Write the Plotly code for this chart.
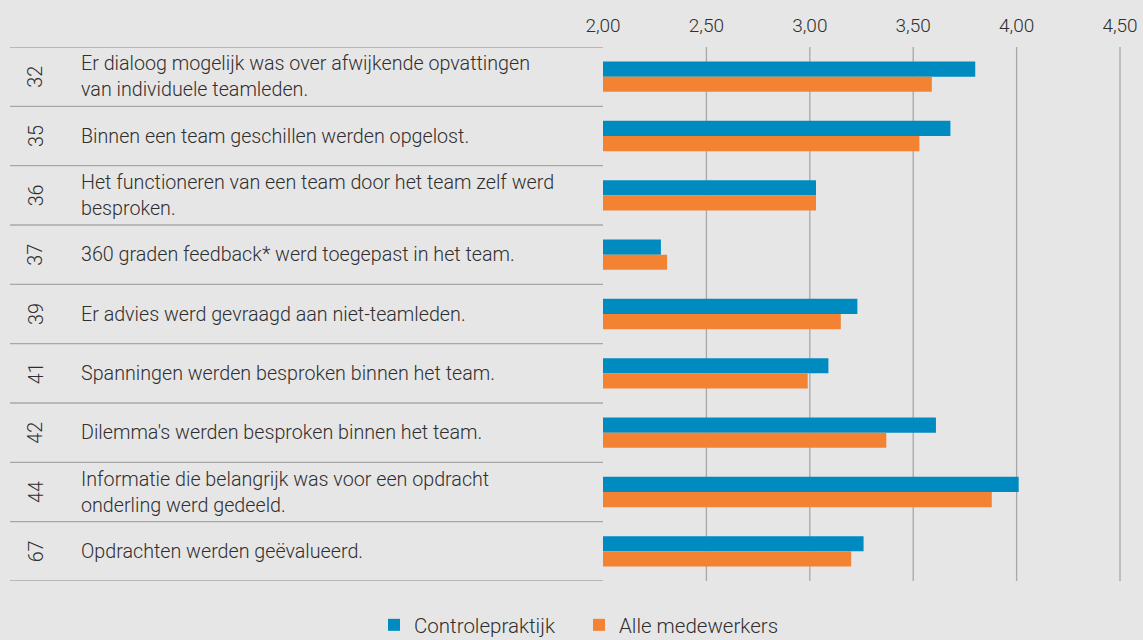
import plotly.graph_objects as go

numbers = ["32", "35", "36", "37", "39", "41", "42", "44", "67"]
labels = [
    "Er dialoog mogelijk was over afwijkende opvattingen<br>van individuele teamleden.",
    "Binnen een team geschillen werden opgelost.",
    "Het functioneren van een team door het team zelf werd<br>besproken.",
    "360 graden feedback* werd toegepast in het team.",
    "Er advies werd gevraagd aan niet-teamleden.",
    "Spanningen werden besproken binnen het team.",
    "Dilemma's werden besproken binnen het team.",
    "Informatie die belangrijk was voor een opdracht<br>onderling werd gedeeld.",
    "Opdrachten werden geëvalueerd.",
]
controlepraktijk = [3.80, 3.68, 3.03, 2.28, 3.23, 3.09, 3.61, 4.01, 3.26]
alle_medewerkers = [3.59, 3.53, 3.03, 2.31, 3.15, 2.99, 3.37, 3.88, 3.20]
tick_values = [2.0, 2.5, 3.0, 3.5, 4.0, 4.5]

BLUE = "#008bc0"
ORANGE = "#f38332"
BG = "#e7e6e6"
LINE = "#a8a8a8"
TEXT = "#2f2f2f"
FONT = "Roboto"
FS = 19.7

W, H = 1143, 640
L, R, T, B = 603, 3, 47, 59
pw = W - L - R
px_per_unit = 206.8
xmax = 2.0 + pw / px_per_unit

fig = go.Figure()
fig.add_trace(go.Bar(y=numbers, x=[v - 2.0 for v in controlepraktijk], base=2.0,
                     orientation="h", name="Controlepraktijk",
                     marker=dict(color=BLUE, line=dict(width=0))))
fig.add_trace(go.Bar(y=numbers, x=[v - 2.0 for v in alle_medewerkers], base=2.0,
                     orientation="h", name="Alle medewerkers",
                     marker=dict(color=ORANGE, line=dict(width=0))))

def px_to_paper(px):
    return (px - L) / pw

shapes = []
# horizontal separators in the table
for i in range(len(numbers) + 1):
    shapes.append(dict(type="line", xref="paper", yref="y",
                       x0=px_to_paper(10), x1=0, y0=i - 0.5, y1=i - 0.5,
                       line=dict(color=LINE, width=1.3), layer="below"))
# vertical gridlines (skip the baseline)
for tv in tick_values[1:]:
    shapes.append(dict(type="line", xref="x", yref="paper",
                       x0=tv, x1=tv, y0=0, y1=1,
                       line=dict(color=LINE, width=1.3), layer="below"))

annotations = []
for i, (n, lab) in enumerate(zip(numbers, labels)):
    annotations.append(dict(xref="paper", yref="y", x=px_to_paper(36), y=i,
                            text=n, textangle=-90, showarrow=False,
                            xanchor="center", yanchor="middle",
                            font=dict(family=FONT, size=FS, color=TEXT, weight=300)))
    annotations.append(dict(xref="paper", yref="y", x=px_to_paper(79), y=i,
                            text=lab, showarrow=False, align="left",
                            xanchor="left", yanchor="middle",
                            font=dict(family=FONT, size=FS, color=TEXT, weight=300)))

fig.update_layout(
    width=W, height=H,
    margin=dict(l=L, r=R, t=T, b=B, autoexpand=False),
    paper_bgcolor=BG, plot_bgcolor=BG,
    barmode="group", bargap=0.49, bargroupgap=0,
    separators=",.",
    font=dict(family=FONT, size=FS, color=TEXT, weight=300),
    xaxis=dict(side="top", range=[2.0, xmax], tickvals=tick_values,
               tickformat=".2f", showgrid=False, zeroline=False,
               showline=False, ticks="", ticklabelstandoff=10,
               tickfont=dict(family=FONT, size=19, color=TEXT, weight=300)),
    yaxis=dict(type="category", categoryorder="array", categoryarray=numbers,
               range=[len(numbers) - 0.5, -0.5], showticklabels=False,
               showgrid=False, zeroline=False, showline=False, ticks=""),
    shapes=shapes,
    annotations=annotations,
    legend=dict(orientation="h", x=px_to_paper(579), xanchor="center",
                yref="container", y=(H - 625) / H, yanchor="middle",
                font=dict(family=FONT, size=20.5, color=TEXT, weight=300),
                itemwidth=30, entrywidth=160, entrywidthmode="pixels",
                bgcolor="rgba(0,0,0,0)"),
    showlegend=True,
)

fig.write_html("out.html", config={"displayModeBar": False},
               post_script="document.body.style.margin='0';")
